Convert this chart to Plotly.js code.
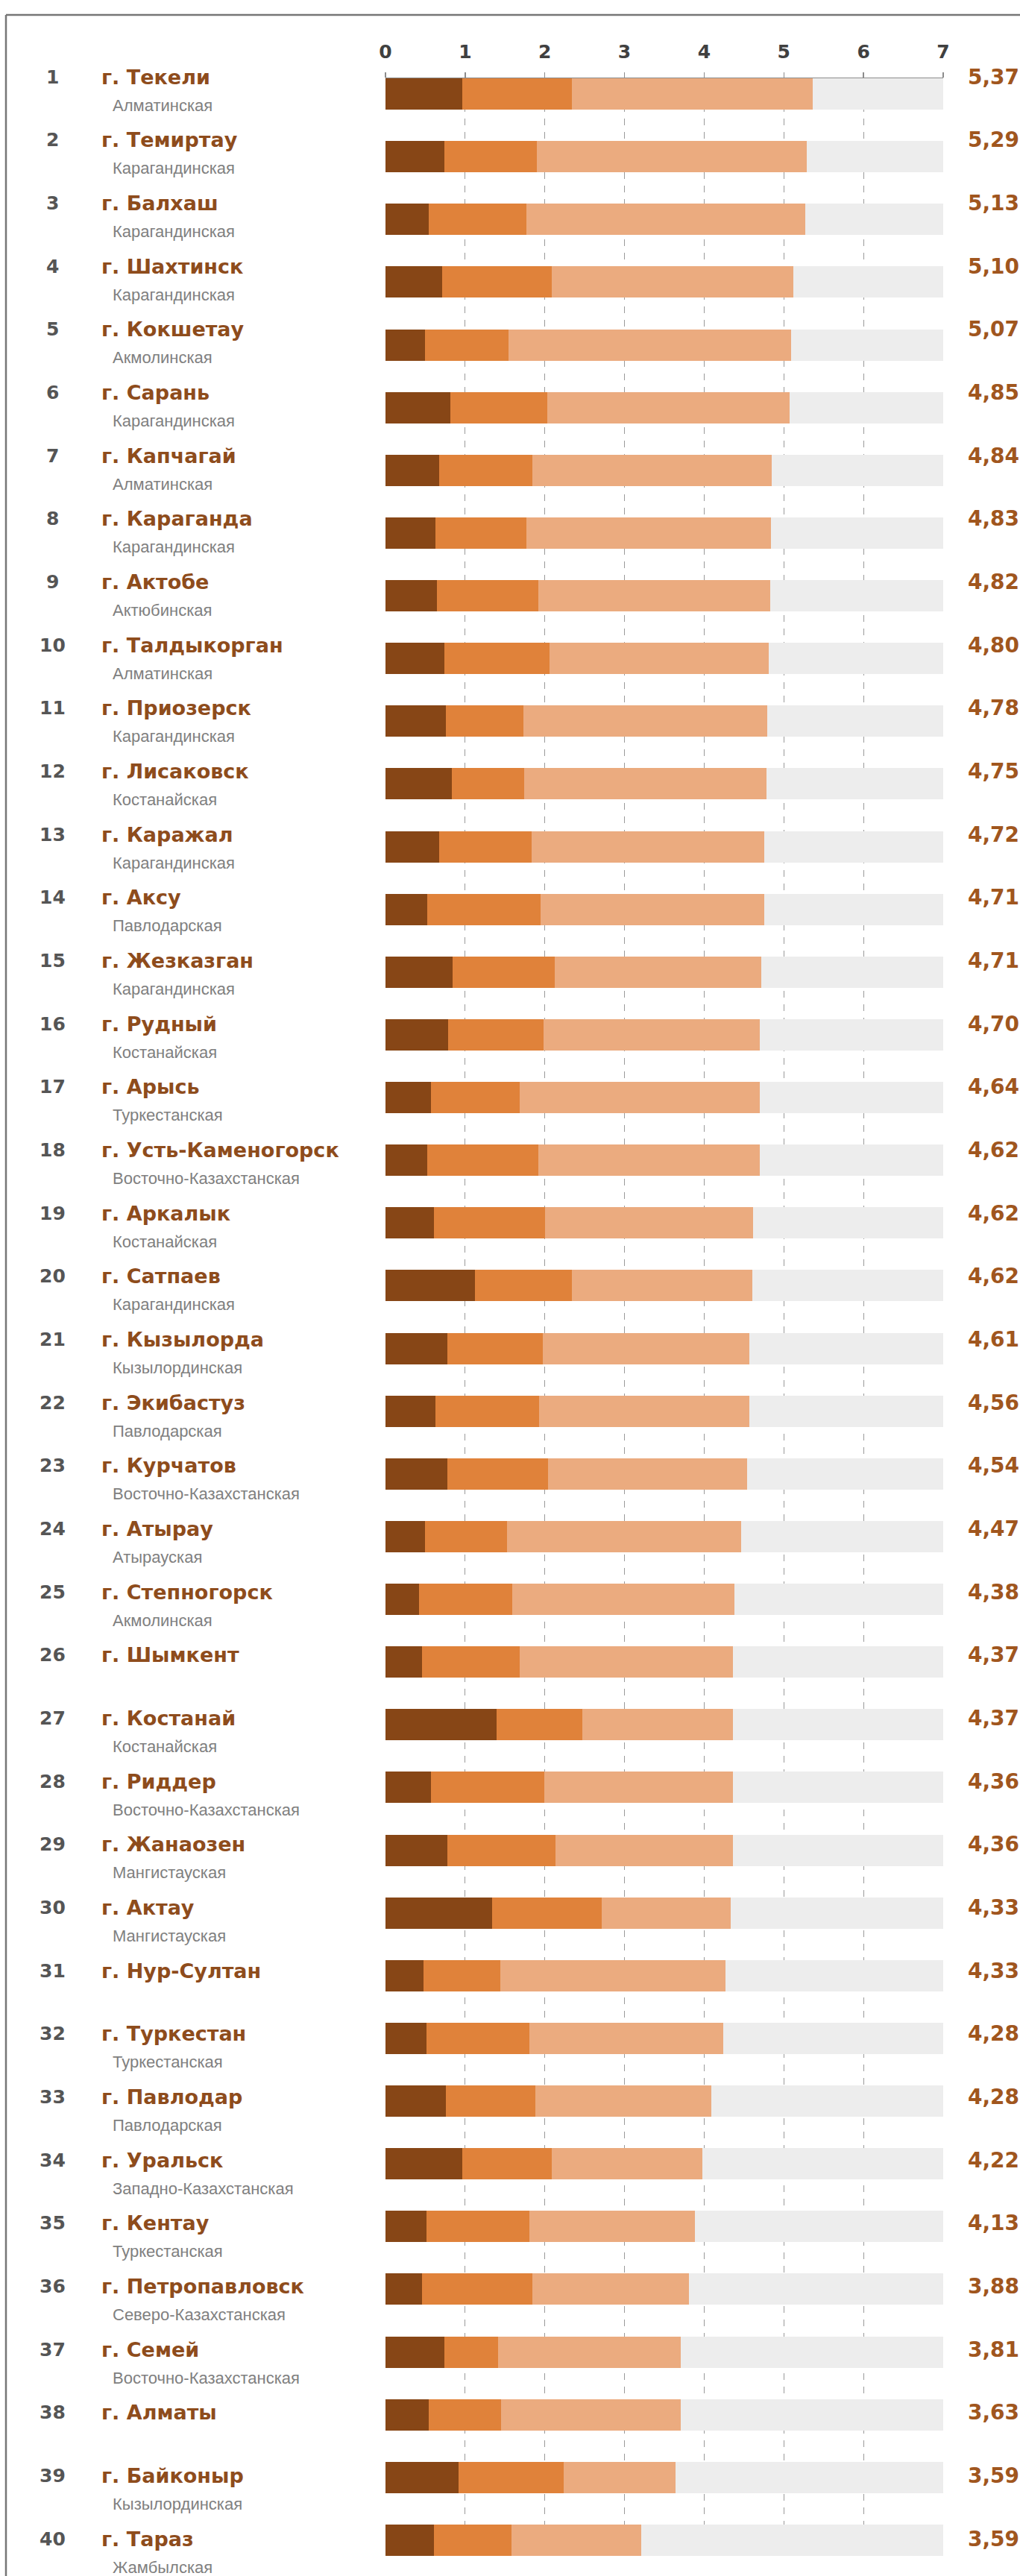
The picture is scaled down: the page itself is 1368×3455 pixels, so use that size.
<!DOCTYPE html>
<html>
<head>
<meta charset="utf-8">
<script src="https://cdn.plot.ly/plotly-3.0.1.min.js"></script>
<style>html,body{margin:0;padding:0;background:#ffffff}</style>
</head>
<body>
<div id="chart" style="width:1368px;height:3455px"></div>
<script>
const cities = ["г. Текели","г. Темиртау","г. Балхаш","г. Шахтинск","г. Кокшетау","г. Сарань","г. Капчагай","г. Караганда","г. Актобе","г. Талдыкорган",
"г. Приозерск","г. Лисаковск","г. Каражал","г. Аксу","г. Жезказган","г. Рудный","г. Арысь","г. Усть-Каменогорск","г. Аркалык","г. Сатпаев",
"г. Кызылорда","г. Экибастуз","г. Курчатов","г. Атырау","г. Степногорск","г. Шымкент","г. Костанай","г. Риддер","г. Жанаозен","г. Актау",
"г. Нур-Султан","г. Туркестан","г. Павлодар","г. Уральск","г. Кентау","г. Петропавловск","г. Семей","г. Алматы","г. Байконыр","г. Тараз"];
const regions = ["Алматинская","Карагандинская","Карагандинская","Карагандинская","Акмолинская","Карагандинская","Алматинская","Карагандинская","Актюбинская","Алматинская",
"Карагандинская","Костанайская","Карагандинская","Павлодарская","Карагандинская","Костанайская","Туркестанская","Восточно-Казахстанская","Костанайская","Карагандинская",
"Кызылординская","Павлодарская","Восточно-Казахстанская","Атырауская","Акмолинская","","Костанайская","Восточно-Казахстанская","Мангистауская","Мангистауская",
"","Туркестанская","Павлодарская","Западно-Казахстанская","Туркестанская","Северо-Казахстанская","Восточно-Казахстанская","","Кызылординская","Жамбылская"];
const scores = [5.37,5.29,5.13,5.10,5.07,4.85,4.84,4.83,4.82,4.80,
4.78,4.75,4.72,4.71,4.71,4.70,4.64,4.62,4.62,4.62,
4.61,4.56,4.54,4.47,4.38,4.37,4.37,4.36,4.36,4.33,
4.33,4.28,4.28,4.22,4.13,3.88,3.81,3.63,3.59,3.59];
const dark = [0.96,0.74,0.54,0.71,0.50,0.81,0.67,0.63,0.65,0.74,
0.76,0.83,0.67,0.52,0.84,0.79,0.57,0.52,0.61,1.12,
0.78,0.63,0.78,0.50,0.42,0.46,1.39,0.57,0.78,1.34,
0.48,0.51,0.76,0.96,0.51,0.46,0.74,0.54,0.92,0.61];
const mid = [1.38,1.16,1.23,1.38,1.04,1.22,1.17,1.14,1.27,1.32,
0.97,0.91,1.16,1.43,1.28,1.19,1.11,1.40,1.39,1.22,
1.19,1.30,1.26,1.03,1.17,1.22,1.08,1.42,1.35,1.37,
0.96,1.30,1.12,1.13,1.30,1.38,0.67,0.91,1.32,0.97];
const light = [3.02,3.39,3.50,3.03,3.55,3.04,3.01,3.07,2.91,2.75,
3.06,3.04,2.92,2.80,2.60,2.72,3.02,2.78,2.61,2.26,
2.60,2.64,2.50,2.93,2.79,2.68,1.89,2.37,2.23,1.62,
2.83,2.43,2.21,1.89,2.07,1.97,2.30,2.26,1.40,1.63];
const tickVals = [0,1,2,3,4,5,6,7];
const AXIS_MAX = 7;

const rows = cities.map((c,i)=>i);
const track = rows.map(i => AXIS_MAX - dark[i] - mid[i] - light[i]);

// layout geometry (pixels)
const W = 1368, H = 3455;
const L = 517, R = 103, T = 105, B = 27;
const PW = W - L - R, PH = H - T - B;
const px = x => (x - L) / PW;
const py = y => 1 - (y - T) / PH;
const TEXT_TOP = 103, TEXT_PITCH = 84.67, REGION_DROP = 38;

function barTrace(vals, color){
  return {type:'bar', orientation:'h', x: vals, y: rows, width: 0.5,
    marker:{color: color, line:{width:0}}, hoverinfo:'skip', showlegend:false};
}
const data = [
  barTrace(dark,  '#874616'),
  barTrace(mid,   '#E0823A'),
  barTrace(light, '#EBAB7F'),
  barTrace(track, '#EDEDED')
];

const annotations = [];
rows.forEach(i => {
  const yc = py(TEXT_TOP + TEXT_PITCH * i);
  annotations.push({xref:'paper', yref:'paper', x:px(70), y:yc, xanchor:'center', yanchor:'middle',
    text:'<b>'+(i+1)+'</b>', showarrow:false, borderpad:0,
    font:{family:'DejaVu Sans, sans-serif', size:25, color:'#555555'}});
  annotations.push({xref:'paper', yref:'paper', x:px(135), y:yc, xanchor:'left', yanchor:'middle',
    text:'<b>'+cities[i]+'</b>', showarrow:false, borderpad:0,
    font:{family:'DejaVu Sans, sans-serif', size:27, color:'#8E4C1C'}});
  if (regions[i]) annotations.push({xref:'paper', yref:'paper', x:px(150), y:yc, yshift:-REGION_DROP, xanchor:'left', yanchor:'middle',
    text:regions[i], showarrow:false, borderpad:0,
    font:{family:'Liberation Sans, Arial, sans-serif', size:22, color:'#808080'}});
  annotations.push({xref:'paper', yref:'paper', x:px(1297), y:yc, xanchor:'left', yanchor:'middle',
    text:'<b>'+scores[i].toFixed(2).replace('.', ',')+'</b>', showarrow:false, borderpad:0,
    font:{family:'DejaVu Sans, sans-serif', size:28, color:'#A0561E'}});
});

const layout = {
  width: W, height: H, autosize:false,
  margin:{l:L, r:R, t:T, b:B, pad:0},
  paper_bgcolor:'#ffffff', plot_bgcolor:'#ffffff',
  barmode:'stack', showlegend:false,
  xaxis:{range:[0, AXIS_MAX], side:'top', tickmode:'array', tickvals:tickVals,
    ticktext: tickVals.map(String),
    showgrid:true, gridcolor:'#9a9a9a', griddash:'dash', gridwidth:1,
    zeroline:false, showline:true, linecolor:'#8c8c8c', linewidth:1.5,
    ticks:'outside', ticklen:7, tickcolor:'#8c8c8c', tickwidth:1.5,
    ticklabelstandoff:9,
    tickfont:{family:'DejaVu Sans, sans-serif', size:25, color:'#404040', weight:'bold'},
    fixedrange:true},
  yaxis:{range:[39.25, -0.25], visible:false, showgrid:false, zeroline:false, fixedrange:true},
  annotations: annotations,
  shapes:[
    {type:'line', xref:'paper', yref:'paper', x0:px(8), x1:px(1400), y0:py(20), y1:py(20),
      line:{color:'#767676', width:2.5}},
    {type:'line', xref:'paper', yref:'paper', x0:px(8), x1:px(8), y0:py(20), y1:py(3470),
      line:{color:'#767676', width:2.5}}
  ]
};

Plotly.newPlot('chart', data, layout, {displayModeBar:false, staticPlot:true});
</script>
</body>
</html>
